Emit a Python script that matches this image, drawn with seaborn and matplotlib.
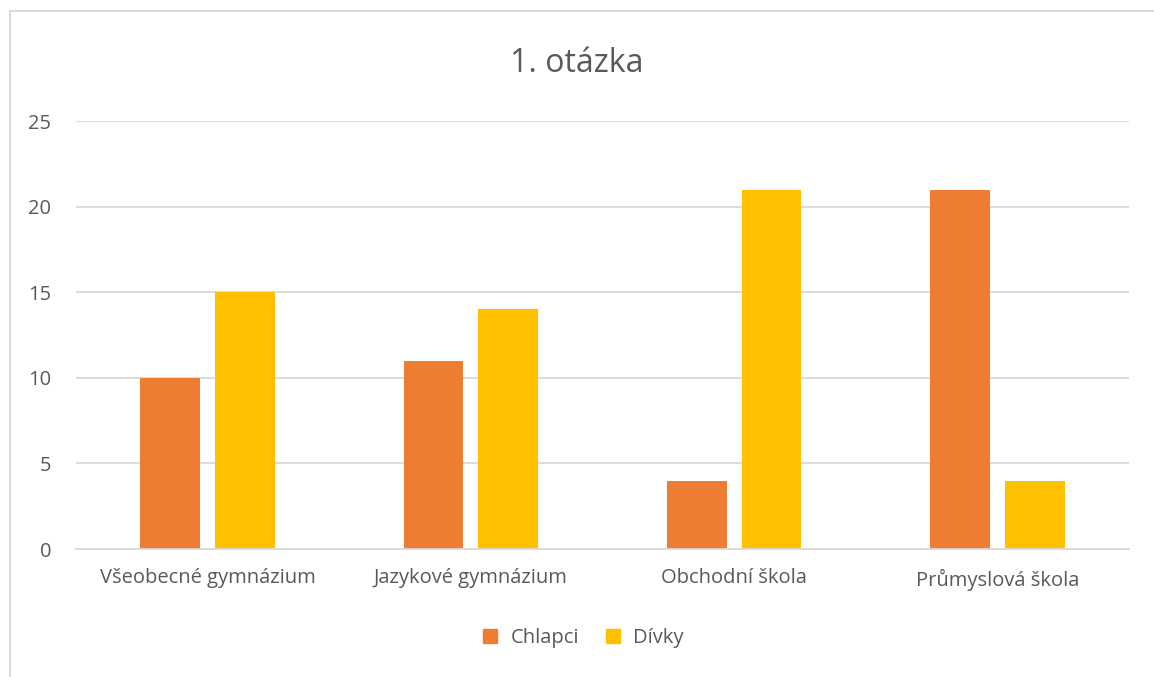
import seaborn as sns
import matplotlib.pyplot as plt
import pandas as pd
from matplotlib.lines import Line2D

categories = ["Všeobecné gymnázium", "Jazykové gymnázium", "Obchodní škola", "Průmyslová škola"]
chlapci = [10, 11, 4, 21]
divky = [15, 14, 21, 4]
series = ["Chlapci", "Dívky"]
colors = ["#ED7D31", "#FFC000"]

data = pd.DataFrame({
    "kategorie": categories * 2,
    "pocet": chlapci + divky,
    "pohlavi": [series[0]] * len(categories) + [series[1]] * len(categories),
})

sns.set_style("white")
plt.rcParams["font.family"] = ["Open Sans", "DejaVu Sans"]
text_color = "#595959"

fig = plt.figure(figsize=(11.54, 6.77), dpi=100)
ax = fig.add_axes([0.0659, 0.189, 0.9124, 0.632])

sns.barplot(data, x="kategorie", y="pocet", hue="pohlavi", palette=colors,
            width=0.568, gap=0.2, ax=ax, legend=False, saturation=1, linewidth=0)

ax.set_ylim(0, 25)
ax.set_xlim(-0.5, 3.5)
ax.set_yticks([0, 5, 10, 15, 20, 25])
ax.yaxis.grid(True, color="#D9D9D9", linewidth=1.3)
ax.set_axisbelow(True)
for s in ["top", "right", "left"]:
    ax.spines[s].set_visible(False)
ax.spines["bottom"].set_color("#D9D9D9")
ax.spines["bottom"].set_linewidth(1.3)
ax.tick_params(axis="both", length=0, labelsize=14.5, labelcolor=text_color)
ax.tick_params(axis="y", pad=18)
ax.tick_params(axis="x", pad=14)
ax.set_xlabel("")
ax.set_ylabel("")

fig.text(0.5, 0.906, "1. otázka", ha="center", va="center", fontsize=23, color=text_color)

handles = [Line2D([], [], marker="s", linestyle="", markersize=10, color=c) for c in colors]
fig.legend(handles, series, loc="center", bbox_to_anchor=(0.5, 0.057), ncol=2, frameon=False,
           fontsize=14.5, labelcolor=text_color, handletextpad=0.0, columnspacing=0.7)

# chart-area border (top and left edges visible in the reference)
fig.add_artist(Line2D([10 / 1154, 1], [1 - 11 / 677, 1 - 11 / 677], color="#D9D9D9", linewidth=1.5))
fig.add_artist(Line2D([10 / 1154, 10 / 1154], [0, 1 - 11 / 677], color="#D9D9D9", linewidth=1.5))

plt.savefig("out.png", dpi=100)
